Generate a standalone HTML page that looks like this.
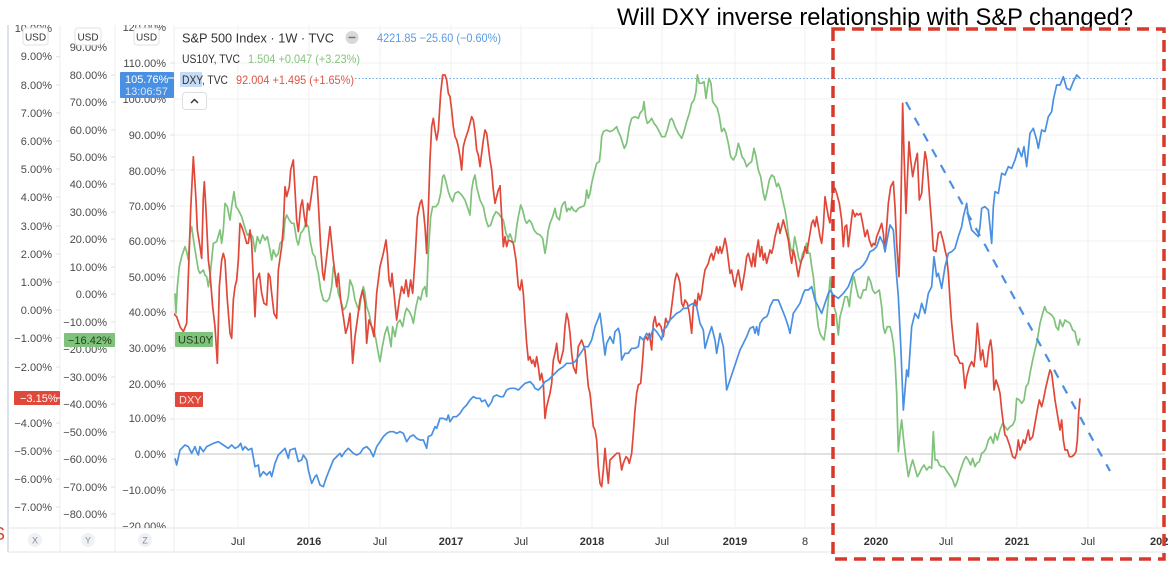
<!DOCTYPE html>
<html><head><meta charset="utf-8"><style>
html,body{margin:0;padding:0;background:#fff;}
svg{display:block;font-family:"Liberation Sans",sans-serif;}
</style></head><body>
<svg width="1176" height="568" viewBox="0 0 1176 568" xmlns="http://www.w3.org/2000/svg">
<defs>
<clipPath id="cPlot"><rect x="174" y="25" width="992" height="503"/></clipPath>
<clipPath id="cAxis"><rect x="0" y="25" width="174" height="503"/></clipPath>
</defs>
<rect width="1176" height="568" fill="#fff"/>

<!-- title -->
<text x="617" y="25" font-size="24" fill="#000" textLength="516" lengthAdjust="spacingAndGlyphs">Will DXY inverse relationship with S&amp;P changed?</text>

<!-- stray red glyph at far left -->
<text x="-7" y="540" font-size="18" fill="#e0453a">S</text>

<!-- panel frame -->
<line x1="8" y1="25" x2="8" y2="552" stroke="#dde3ee" stroke-width="2"/>
<line x1="60" y1="25" x2="60" y2="552" stroke="#ececec"/>
<line x1="115" y1="25" x2="115" y2="552" stroke="#ececec"/>
<line x1="174" y1="25" x2="174" y2="552" stroke="#ececec"/>
<line x1="8" y1="528" x2="1165" y2="528" stroke="#e6e6e6"/>
<line x1="8" y1="552" x2="1165" y2="552" stroke="#e6e6e6"/>

<!-- grid -->
<g stroke="#f1f1f1" stroke-width="1">
<line x1="238" y1="25" x2="238" y2="528"/><line x1="309" y1="25" x2="309" y2="528"/>
<line x1="380" y1="25" x2="380" y2="528"/><line x1="451" y1="25" x2="451" y2="528"/>
<line x1="521" y1="25" x2="521" y2="528"/><line x1="592" y1="25" x2="592" y2="528"/>
<line x1="662" y1="25" x2="662" y2="528"/><line x1="735" y1="25" x2="735" y2="528"/>
<line x1="805" y1="25" x2="805" y2="528"/><line x1="876" y1="25" x2="876" y2="528"/>
<line x1="946" y1="25" x2="946" y2="528"/><line x1="1017" y1="25" x2="1017" y2="528"/>
<line x1="1088" y1="25" x2="1088" y2="528"/><line x1="1157" y1="25" x2="1157" y2="528"/>
<line x1="174" y1="28" x2="1165" y2="28"/><line x1="174" y1="63" x2="1165" y2="63"/>
<line x1="174" y1="99" x2="1165" y2="99"/><line x1="174" y1="135" x2="1165" y2="135"/>
<line x1="174" y1="170" x2="1165" y2="170"/><line x1="174" y1="206" x2="1165" y2="206"/>
<line x1="174" y1="241" x2="1165" y2="241"/><line x1="174" y1="277" x2="1165" y2="277"/>
<line x1="174" y1="312" x2="1165" y2="312"/><line x1="174" y1="348" x2="1165" y2="348"/>
<line x1="174" y1="384" x2="1165" y2="384"/><line x1="174" y1="419" x2="1165" y2="419"/>
<line x1="174" y1="490" x2="1165" y2="490"/>
</g>
<line x1="174" y1="454" x2="1165" y2="454" stroke="#cfcfcf" stroke-width="1.2"/>

<!-- axis labels -->
<g clip-path="url(#cAxis)" font-size="11" fill="#4a4a4a" text-anchor="end">
<g>
<text x="52" y="32">10.00%</text><text x="52" y="60">9.00%</text><text x="52" y="89">8.00%</text>
<text x="52" y="117">7.00%</text><text x="52" y="145">6.00%</text><text x="52" y="173">5.00%</text>
<text x="52" y="201">4.00%</text><text x="52" y="230">3.00%</text><text x="52" y="258">2.00%</text>
<text x="52" y="286">1.00%</text><text x="52" y="314">0.00%</text><text x="52" y="342">−1.00%</text>
<text x="52" y="371">−2.00%</text><text x="52" y="399">−3.00%</text><text x="52" y="427">−4.00%</text>
<text x="52" y="455">−5.00%</text><text x="52" y="483">−6.00%</text><text x="52" y="511">−7.00%</text>
</g>
<g>
<text x="107" y="51">90.00%</text><text x="107" y="79">80.00%</text><text x="107" y="106">70.00%</text>
<text x="107" y="134">60.00%</text><text x="107" y="161">50.00%</text><text x="107" y="188">40.00%</text>
<text x="107" y="216">30.00%</text><text x="107" y="243">20.00%</text><text x="107" y="271">10.00%</text>
<text x="107" y="298">0.00%</text><text x="107" y="326">−10.00%</text><text x="107" y="353">−20.00%</text>
<text x="107" y="381">−30.00%</text><text x="107" y="408">−40.00%</text><text x="107" y="436">−50.00%</text>
<text x="107" y="463">−60.00%</text><text x="107" y="491">−70.00%</text><text x="107" y="518">−80.00%</text>
</g>
<g>
<text x="166" y="31">120.00%</text><text x="166" y="67">110.00%</text><text x="166" y="103">100.00%</text>
<text x="166" y="139">90.00%</text><text x="166" y="175">80.00%</text><text x="166" y="210">70.00%</text>
<text x="166" y="245">60.00%</text><text x="166" y="281">50.00%</text><text x="166" y="316">40.00%</text>
<text x="166" y="352">30.00%</text><text x="166" y="388">20.00%</text><text x="166" y="422">10.00%</text>
<text x="166" y="458">0.00%</text><text x="166" y="494">−10.00%</text><text x="166" y="530">−20.00%</text>
</g>
<g stroke="#e0e0e0">
<line x1="56" y1="56.7" x2="60" y2="56.7"/><line x1="56" y1="85" x2="60" y2="85"/><line x1="56" y1="113" x2="60" y2="113"/>
<line x1="56" y1="141" x2="60" y2="141"/><line x1="56" y1="169" x2="60" y2="169"/><line x1="56" y1="197" x2="60" y2="197"/>
<line x1="56" y1="226" x2="60" y2="226"/><line x1="56" y1="254" x2="60" y2="254"/><line x1="56" y1="282" x2="60" y2="282"/>
<line x1="56" y1="310" x2="60" y2="310"/><line x1="56" y1="338" x2="60" y2="338"/><line x1="56" y1="367" x2="60" y2="367"/>
<line x1="56" y1="423" x2="60" y2="423"/><line x1="56" y1="451" x2="60" y2="451"/><line x1="56" y1="479" x2="60" y2="479"/><line x1="56" y1="507" x2="60" y2="507"/>
<line x1="111" y1="75" x2="115" y2="75"/><line x1="111" y1="102" x2="115" y2="102"/><line x1="111" y1="130" x2="115" y2="130"/>
<line x1="111" y1="157" x2="115" y2="157"/><line x1="111" y1="184" x2="115" y2="184"/><line x1="111" y1="212" x2="115" y2="212"/>
<line x1="111" y1="239" x2="115" y2="239"/><line x1="111" y1="267" x2="115" y2="267"/><line x1="111" y1="294" x2="115" y2="294"/>
<line x1="111" y1="322" x2="115" y2="322"/><line x1="111" y1="377" x2="115" y2="377"/><line x1="111" y1="404" x2="115" y2="404"/>
<line x1="111" y1="432" x2="115" y2="432"/><line x1="111" y1="459" x2="115" y2="459"/><line x1="111" y1="487" x2="115" y2="487"/><line x1="111" y1="514" x2="115" y2="514"/>
<line x1="170" y1="63" x2="174" y2="63"/><line x1="170" y1="135" x2="174" y2="135"/><line x1="170" y1="170" x2="174" y2="170"/>
<line x1="170" y1="206" x2="174" y2="206"/><line x1="170" y1="241" x2="174" y2="241"/><line x1="170" y1="277" x2="174" y2="277"/>
<line x1="170" y1="312" x2="174" y2="312"/><line x1="170" y1="348" x2="174" y2="348"/><line x1="170" y1="384" x2="174" y2="384"/>
<line x1="170" y1="419" x2="174" y2="419"/><line x1="170" y1="454" x2="174" y2="454"/><line x1="170" y1="490" x2="174" y2="490"/>
</g>
</g>

<!-- USD buttons -->
<g font-size="10" fill="#333" text-anchor="middle">
<rect x="23" y="28" width="25" height="17" rx="3" fill="#fff" stroke="#e2e2e2"/><text x="35.5" y="40.5">USD</text>
<rect x="75" y="28" width="26" height="17" rx="3" fill="#fff" stroke="#e2e2e2"/><text x="88" y="40.5">USD</text>
<rect x="134" y="28" width="25" height="17" rx="3" fill="#fff" stroke="#e2e2e2"/><text x="146.5" y="40.5">USD</text>
</g>

<!-- badges -->
<rect x="14" y="391" width="46" height="14" rx="1" fill="#e0483a"/>
<text x="20" y="402" font-size="11" fill="#fff">−3.15%</text>
<line x1="56" y1="398" x2="60" y2="398" stroke="#fff"/>
<rect x="64" y="333" width="51" height="14" rx="1" fill="#7fc27b"/>
<text x="68" y="344" font-size="11" fill="#24401f">−16.42%</text>
<rect x="120" y="72" width="54" height="26" rx="1" fill="#4a90e2"/>
<text x="125" y="83" font-size="11" fill="#fff">105.76%</text>
<text x="125" y="95" font-size="11" fill="#d7e7fb">13:06:57</text>
<line x1="168" y1="78" x2="174" y2="78" stroke="#fff"/>

<!-- XYZ circles -->
<g font-size="9" fill="#8a8a8a" text-anchor="middle">
<circle cx="35" cy="540" r="7" fill="#eef1f6"/><text x="35" y="543.5">X</text>
<circle cx="88" cy="540" r="7" fill="#eef1f6"/><text x="88" y="543.5">Y</text>
<circle cx="145" cy="540" r="7" fill="#eef1f6"/><text x="145" y="543.5">Z</text>
</g>

<!-- time axis labels -->
<g font-size="11" fill="#333" text-anchor="middle">
<text x="238" y="545">Jul</text><text x="309" y="545" font-weight="bold">2016</text>
<text x="380" y="545">Jul</text><text x="451" y="545" font-weight="bold">2017</text>
<text x="521" y="545">Jul</text><text x="592" y="545" font-weight="bold">2018</text>
<text x="662" y="545">Jul</text><text x="735" y="545" font-weight="bold">2019</text>
<text x="805" y="545">8</text><text x="876" y="545" font-weight="bold">2020</text>
<text x="946" y="545">Jul</text><text x="1017" y="545" font-weight="bold">2021</text>
<text x="1088" y="545">Jul</text><text x="1150" y="545" font-weight="bold" text-anchor="start">202</text>
</g>

<!-- dotted last price line -->
<line x1="355" y1="78.5" x2="1165" y2="78.5" stroke="#6ea6ea" stroke-width="1" stroke-dasharray="1.5,2"/>

<!-- series -->
<g clip-path="url(#cPlot)" fill="none" stroke-linejoin="round">
<g stroke="#7fc27b">
<polyline vector-effect="non-scaling-stroke" stroke-width="1.7" transform="translate(170,60) scale(0.33333)" points="15,700 18,760 22,680 28,620 35,590 45,560 50,575 55,600 60,520 65,500 72,550 80,600 85,630 90,640 100,630 105,645 110,650 115,680 120,650 125,600 130,550 140,545 150,510 155,550 160,510 165,430 172,440 180,480 185,440 192,395 198,440 205,450 215,470 225,505 232,525 240,520 248,530 255,575 262,530 270,550 278,525 285,540 292,530 300,570 305,600 310,570 318,590 325,580 330,550 340,540 345,480 350,465 358,480 365,490 372,490 380,540 385,555 392,520 400,510 408,490 415,500 420,540 428,580 435,590 440,620 445,640 452,690 460,720 470,725 478,715 485,680 490,620 498,650 505,700 512,720 520,750 528,740 535,710 540,660 548,680 555,720 562,740 568,750 575,700 580,680 585,700 590,740 597,760 605,800 612,810 618,840 625,880 630,905 637,860 645,820 652,800 658,830 663,860 668,800 675,830 682,790 690,780 698,800 705,760 710,745 718,755 725,770 730,790 738,740 745,710 752,720 758,690 765,680 770,710 775,580 782,470 788,440 798,440 805,430 812,400 818,350 822,345 828,365 835,395 840,410 848,425 855,400 865,395 875,405 885,420 895,450 900,465 905,390 910,360 915,345 920,380 930,420 935,430 940,440 948,480 955,500 962,495 970,470 978,455 985,460 992,470 1000,480 1008,520 1015,535 1020,520"/>
<polyline vector-effect="non-scaling-stroke" stroke-width="1.7" transform="translate(500,60) scale(0.33333)" points="30,520 38,545 45,545 50,500 55,470 62,435 68,450 75,480 80,490 88,480 95,490 102,510 110,520 120,525 128,535 135,580 140,550 145,510 150,490 158,470 165,445 170,470 178,480 185,440 190,430 195,425 200,455 205,445 210,450 215,440 220,450 228,455 235,445 245,440 252,438 256,425 260,390 265,415 270,400 275,370 282,340 290,310 298,305 302,270 305,230 310,215 320,210 330,215 340,210 350,200 355,215 362,230 368,250 373,265 380,250 388,200 395,175 405,170 415,175 420,160 428,150 432,125 437,170 442,190 448,185 455,175 462,190 470,200 478,215 485,230 495,230 502,210 510,180 515,175 520,185 525,200 535,220 545,235 552,215 560,185 568,160 575,130 582,120 588,95 592,45 598,70 605,70 612,65 618,115 622,85 627,55 633,70 638,125 645,135 652,145 658,170 665,215 672,205 678,220 685,250 692,290 700,300 708,285 715,250 720,265 726,290 733,300 740,320 748,310 755,305 762,265 768,290 775,330 782,350 790,400 795,420 800,400 808,360 815,345 822,350 830,380 835,370 842,390 848,420 855,450 860,480 866,530 872,565 878,580 884,530 890,560 896,595 902,610 908,580 915,570 920,550 925,580 930,580 935,620 940,650 945,700 950,760 955,800 960,820 965,830 972,840 978,800 985,720 990,660"/>
<polyline vector-effect="non-scaling-stroke" stroke-width="1.7" transform="translate(830,60) scale(0.33333)" points="0,650 5,700 12,740 18,760 25,825 30,770 38,740 45,710 52,710 58,740 62,700 68,660 72,650 78,680 85,710 92,715 100,690 108,690 115,650 122,665 128,690 135,700 142,695 148,690 155,740 160,800 165,820 172,800 180,800 185,820 190,850 195,900 200,1000 205,1175 210,1120 215,1080 222,1150 228,1200 235,1250 242,1220 248,1200 255,1225 262,1250 268,1240 275,1225 282,1215 290,1230 298,1220 305,1225 310,1115 315,1200 322,1200 328,1215 335,1220 342,1220 348,1230 355,1240 362,1250 368,1260 375,1280 382,1265 388,1240 395,1220 402,1200 408,1190 415,1200 422,1215 428,1195 435,1220 440,1210 448,1205 455,1180 462,1175 468,1165 475,1140 482,1130 490,1150 495,1120 502,1140 510,1110 518,1090 525,1100 532,1110 540,1100 548,1095 555,1080 560,1015 568,1020 575,1030 582,1020 588,980 595,970 600,940 608,900 615,870 622,840 630,790 638,760 644,740 650,755 658,760 665,765 672,775 678,800 685,810 690,780 698,800 705,780 712,785 720,790 728,810 735,815 740,840 745,855 750,835"/>
</g>
<g stroke="#e0483a">
<polyline vector-effect="non-scaling-stroke" stroke-width="1.7" transform="translate(170,60) scale(0.33333)" points="10,760 20,770 30,800 40,815 50,790 55,650 62,450 70,290 78,420 82,510 90,560 95,595 100,410 103,365 108,450 115,600 120,640 128,740 135,800 142,910 148,680 155,600 160,580 165,600 172,720 180,820 185,835 190,720 195,680 200,660 205,600 210,490 215,500 222,520 230,550 235,550 240,510 245,550 250,660 255,770 260,660 268,640 275,700 282,730 290,735 295,640 300,650 305,700 312,760 320,775 325,630 335,560 340,500 345,380 350,410 358,380 362,330 370,300 375,390 380,480 385,515 392,440 397,420 403,470 408,500 413,430 418,450 425,400 432,350 440,350 445,430 452,560 458,640 462,660 470,590 480,500 490,600 500,680 505,640 512,720 520,770 527,820 533,800 540,760 548,910 555,830 562,780 570,720 578,690 585,730 590,850 597,780 605,800 612,830 620,700 630,620 640,580 648,540 652,580 657,660 662,680 666,640 672,700 680,780 688,720 695,680 702,700 708,660 715,710 722,660 728,700 735,600 742,470 750,430 755,420 760,450 765,500 770,580 775,450 780,300 785,200 790,175 795,210 800,240 805,210 812,100 818,45 825,45 830,60 835,100 840,110 845,150 850,200 855,230 860,240 865,260 870,290 875,330 880,260 885,240 890,225 895,210 900,190 905,170 910,180 915,215 920,270 925,285 930,320 935,280 940,240 945,210 950,220 955,260 960,300 965,330 970,390 975,430 980,410 985,390 990,380"/>
<polyline vector-effect="non-scaling-stroke" stroke-width="1.7" transform="translate(500,60) scale(0.33333)" points="0,375 5,470 10,560 15,530 20,560 25,540 35,545 40,550 48,600 55,680 60,690 65,660 70,700 75,780 80,850 85,900 90,890 95,910 100,900 105,920 110,890 115,920 120,960 125,940 130,970 135,1075 140,1040 145,1020 150,1000 155,970 160,900 165,880 170,850 175,900 180,910 185,890 190,870 195,800 200,760 205,780 210,820 215,880 220,920 228,940 235,860 245,840 255,870 265,980 270,1000 275,1050 280,1100 285,1110 290,1140 295,1220 300,1270 305,1280 310,1230 315,1165 320,1220 325,1270 330,1200 340,1190 350,1180 358,1180 365,1230 370,1210 378,1190 383,1195 388,1210 395,1180 400,1120 405,1050 410,1000 415,975 422,970 428,900 432,840 438,830 443,840 448,820 455,870 460,790 465,770 470,800 477,790 483,800 490,830 497,775 503,790 510,780 515,740 520,700 525,660 530,640 535,650 540,670 545,730 550,740 555,720 562,730 568,760 575,820 580,740 585,720 590,740 595,700 600,720 605,700 610,660 615,630 620,620 625,610 630,590 635,580 640,600 645,580 650,560 655,580 660,560 665,580 670,560 675,535 680,560 685,600 690,640 695,630 700,660 705,680 710,650 715,630 720,660 725,690 730,660 735,630 740,590 745,580 750,600 755,620 760,580 765,620 770,570 775,540 780,590 785,560 790,600 795,580 800,610 805,590 810,570 815,580 820,560 825,530 830,510 835,490 840,520 845,500 850,480 855,500 860,520 865,540 870,580 875,610 880,570 885,590 890,620 895,650 900,620 905,600 910,590 915,560 920,580 925,550 930,520 935,490 940,480 945,500 950,470 955,500 960,530 965,550 970,500 975,410 980,440 985,470 990,490"/>
<polyline vector-effect="non-scaling-stroke" stroke-width="1.7" transform="translate(830,60) scale(0.33333)" points="0,490 8,390 15,385 20,400 28,430 35,480 40,560 45,500 50,495 55,560 62,500 68,450 75,470 80,460 85,465 92,460 98,490 105,530 112,510 118,540 125,560 130,550 135,555 140,530 148,510 155,490 160,520 165,575 170,500 175,430 182,380 190,365 195,440 200,550 207,650 212,480 218,130 222,280 228,460 232,360 237,245 242,300 248,350 255,310 262,280 268,420 275,400 280,330 285,275 290,300 295,360 300,430 305,490 310,570 318,575 325,520 332,515 340,545 345,570 350,590 355,640 360,720 365,790 370,840 375,885 382,890 390,910 398,910 405,985 410,950 418,920 425,905 432,920 437,870 442,790 447,840 452,900 458,870 465,920 470,920 477,860 482,840 487,880 492,990 498,960 505,980 510,1000 515,1050 520,1090 525,1125 530,1130 540,1160 548,1190 555,1195 560,1180 565,1140 570,1170 575,1160 580,1140 585,1150 590,1130 595,1110 600,1140 608,1130 615,1090 622,1050 628,1020 635,1040 640,1020 648,980 655,950 660,930 665,940 670,980 675,1020 680,1050 685,1080 690,1110 695,1080 700,1140 705,1170 712,1170 718,1190 725,1190 732,1185 738,1175 742,1140 746,1060 750,1015"/>
</g>
<g stroke="#4a90e2">
<polyline vector-effect="non-scaling-stroke" stroke-width="1.7" transform="translate(170,60) scale(0.33333)" points="15,1195 20,1215 30,1170 45,1155 55,1160 65,1180 75,1160 80,1175 85,1185 90,1160 100,1175 110,1160 120,1155 130,1150 145,1145 160,1155 175,1165 185,1155 195,1165 205,1160 212,1150 218,1170 225,1160 235,1170 245,1165 255,1220 265,1215 270,1250 280,1235 290,1245 300,1235 305,1250 315,1210 325,1185 335,1175 345,1165 355,1195 360,1170 375,1165 385,1205 395,1200 400,1185 410,1200 415,1230 425,1270 435,1250 440,1245 450,1275 460,1280 470,1250 480,1225 490,1200 500,1190 510,1180 515,1190 525,1175 535,1165 540,1170 550,1180 560,1185 570,1180 580,1165 590,1160 600,1170 610,1190 620,1160 630,1145 640,1130 650,1120 660,1115 670,1115 680,1120 690,1115 700,1120 710,1145 720,1130 730,1125 740,1135 750,1140 760,1140 770,1165 775,1130 785,1125 795,1100 800,1105 810,1075 820,1075 830,1080 835,1065 840,1085 850,1070 860,1070 870,1060 880,1045 890,1035 900,1020 910,1010 920,1015 930,1015 935,1025 945,1020 955,1040 965,1025 970,1010 980,1005 990,1010 1000,1010 1010,990 1020,985"/>
<polyline vector-effect="non-scaling-stroke" stroke-width="1.7" transform="translate(500,60) scale(0.33333)" points="30,985 45,985 55,990 65,980 75,970 90,965 100,975 105,985 115,990 125,980 135,965 145,960 160,945 175,930 190,920 200,910 215,910 225,905 235,890 245,875 255,860 265,860 275,840 285,800 295,775 300,760 305,800 315,885 320,850 330,830 340,850 345,815 355,805 360,825 365,900 375,880 385,880 395,865 405,865 415,860 420,830 430,840 440,820 450,835 460,805 470,815 480,830 485,840 490,810 500,800 510,780 520,770 530,760 540,755 550,745 560,745 570,735 580,730 590,740 600,790 610,810 615,865 625,830 635,800 645,840 650,880 660,820 670,860 680,990 690,960 700,930 710,900 720,870 730,850 740,830 750,805 760,800 765,820 770,800 775,825 780,790 790,775 800,770 805,760 810,740 820,720 835,720 845,745 855,770 865,800 870,820 880,760 890,745 900,730 910,700 915,690 925,690 935,680 945,720 955,740 965,760 975,730 985,700 990,690"/>
<polyline vector-effect="non-scaling-stroke" stroke-width="1.7" transform="translate(830,60) scale(0.33333)" points="0,690 10,705 25,715 40,700 55,680 70,640 80,630 90,625 100,615 110,600 120,575 130,570 140,560 150,530 160,550 165,575 175,520 180,495 190,510 200,650 205,710 212,850 220,1050 230,930 235,950 245,800 255,760 265,775 275,730 285,760 295,700 305,680 312,590 320,650 325,640 335,685 345,620 355,580 365,575 375,565 385,530 395,500 400,470 405,450 410,430 415,470 425,510 435,520 445,530 450,500 455,445 465,440 475,450 485,550 490,440 495,395 505,400 515,340 525,345 535,320 545,325 555,300 565,265 575,290 582,260 590,320 595,270 600,220 610,205 620,240 625,265 635,210 645,215 655,170 665,155 670,120 680,75 690,75 700,50 710,85 720,90 730,65 740,45 750,55"/>
</g>
</g>

<!-- in-chart labels -->
<rect x="175" y="332" width="38" height="15" rx="1" fill="#7fc27b"/>
<text x="178" y="343.5" font-size="11" fill="#24401f">US10Y</text>
<rect x="175" y="392" width="28" height="15" rx="1" fill="#e0483a"/>
<text x="179" y="403.5" font-size="11" fill="#fde3df">DXY</text>

<!-- legend -->
<text x="182" y="42.5" font-size="13" fill="#333" textLength="152" lengthAdjust="spacingAndGlyphs">S&amp;P 500 Index · 1W · TVC</text>
<circle cx="352" cy="37.5" r="6.5" fill="#d9d9d9"/>
<line x1="348.5" y1="37.5" x2="355.5" y2="37.5" stroke="#777" stroke-width="1.5"/>
<text x="377" y="42" font-size="12" fill="#5b9be6" textLength="124" lengthAdjust="spacingAndGlyphs">4221.85 −25.60 (−0.60%)</text>
<text x="182" y="63" font-size="12" fill="#333" textLength="58" lengthAdjust="spacingAndGlyphs">US10Y, TVC</text>
<text x="248" y="63" font-size="12" fill="#86c47f" textLength="112" lengthAdjust="spacingAndGlyphs">1.504 +0.047 (+3.23%)</text>
<rect x="180" y="72" width="22" height="15" fill="#c6dbf5"/>
<text x="182" y="84" font-size="12" fill="#333" textLength="46" lengthAdjust="spacingAndGlyphs">DXY, TVC</text>
<text x="236" y="84" font-size="12" fill="#e05546" textLength="118" lengthAdjust="spacingAndGlyphs">92.004 +1.495 (+1.65%)</text>
<rect x="182.5" y="92.5" width="24" height="17" rx="3" fill="#fff" stroke="#dedede"/>
<polyline points="191,103 194.5,99.5 198,103" fill="none" stroke="#333" stroke-width="1.4"/>

<!-- annotations -->
<line x1="906" y1="102" x2="1110" y2="471" stroke="#4a90e2" stroke-width="2.2" stroke-dasharray="9,9"/>
<rect x="833" y="29" width="331" height="530" fill="none" stroke="#d8392b" stroke-width="3.5" stroke-dasharray="12,7"/>
</svg>
</body></html>
